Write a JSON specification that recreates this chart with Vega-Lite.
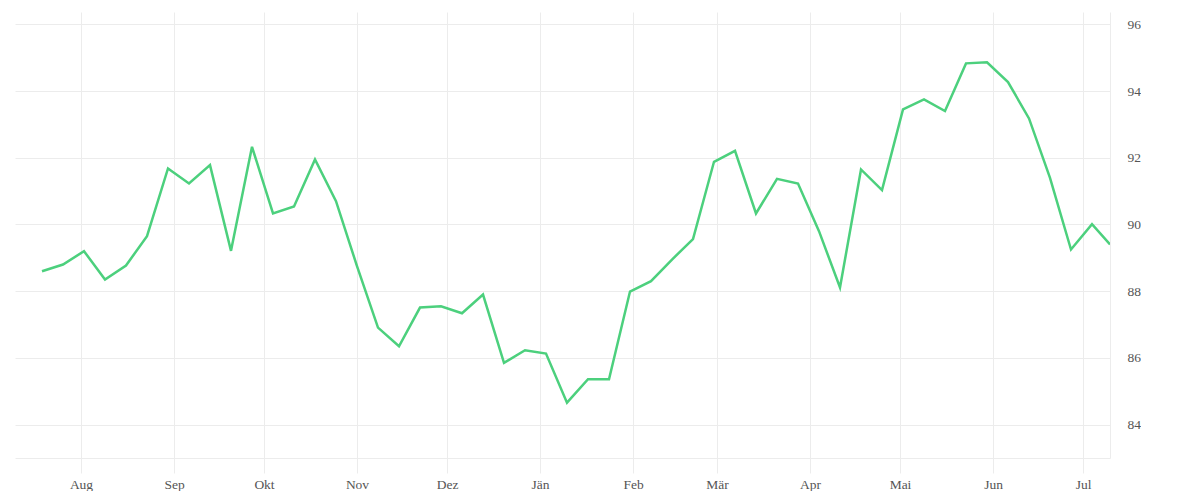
{
  "$schema": "https://vega.github.io/schema/vega-lite/v6.json",
  "width": 1095,
  "height": 446,
  "padding": {"left": 15, "top": 12, "right": 0, "bottom": 0},
  "background": "white",
  "config": {
    "view": {"stroke": null},
    "font": "Liberation Serif"
  },
  "data": {
    "values": [
      {"date": "2022-07-19", "value": 88.60},
      {"date": "2022-07-26", "value": 88.80},
      {"date": "2022-08-02", "value": 89.20},
      {"date": "2022-08-09", "value": 88.35},
      {"date": "2022-08-16", "value": 88.77},
      {"date": "2022-08-23", "value": 89.65},
      {"date": "2022-08-30", "value": 91.68},
      {"date": "2022-09-06", "value": 91.23},
      {"date": "2022-09-13", "value": 91.78},
      {"date": "2022-09-20", "value": 89.21},
      {"date": "2022-09-27", "value": 92.33},
      {"date": "2022-10-04", "value": 90.33},
      {"date": "2022-10-11", "value": 90.54},
      {"date": "2022-10-18", "value": 91.95},
      {"date": "2022-10-25", "value": 90.70},
      {"date": "2022-11-01", "value": 88.75},
      {"date": "2022-11-08", "value": 86.91},
      {"date": "2022-11-15", "value": 86.35},
      {"date": "2022-11-22", "value": 87.51},
      {"date": "2022-11-29", "value": 87.55},
      {"date": "2022-12-06", "value": 87.34},
      {"date": "2022-12-13", "value": 87.90},
      {"date": "2022-12-20", "value": 85.85},
      {"date": "2022-12-27", "value": 86.23},
      {"date": "2023-01-03", "value": 86.13},
      {"date": "2023-01-10", "value": 84.66},
      {"date": "2023-01-17", "value": 85.36},
      {"date": "2023-01-24", "value": 85.36},
      {"date": "2023-01-31", "value": 87.99},
      {"date": "2023-02-07", "value": 88.30},
      {"date": "2023-02-14", "value": 88.95},
      {"date": "2023-02-21", "value": 89.56},
      {"date": "2023-02-28", "value": 91.88},
      {"date": "2023-03-07", "value": 92.21},
      {"date": "2023-03-14", "value": 90.33},
      {"date": "2023-03-21", "value": 91.37},
      {"date": "2023-03-28", "value": 91.23},
      {"date": "2023-04-04", "value": 89.80},
      {"date": "2023-04-11", "value": 88.11},
      {"date": "2023-04-18", "value": 91.65},
      {"date": "2023-04-25", "value": 91.03},
      {"date": "2023-05-02", "value": 93.45},
      {"date": "2023-05-09", "value": 93.75},
      {"date": "2023-05-16", "value": 93.40},
      {"date": "2023-05-23", "value": 94.83},
      {"date": "2023-05-30", "value": 94.86},
      {"date": "2023-06-06", "value": 94.27},
      {"date": "2023-06-13", "value": 93.18},
      {"date": "2023-06-20", "value": 91.40},
      {"date": "2023-06-27", "value": 89.25},
      {"date": "2023-07-04", "value": 90.01},
      {"date": "2023-07-10", "value": 89.40}
    ]
  },
  "mark": {"type": "line", "color": "#4cd07d", "strokeWidth": 2.5, "clip": true},
  "encoding": {
    "x": {
      "field": "date",
      "type": "temporal",
      "scale": {"type": "utc", "domain": ["2022-07-10", "2023-07-10"], "nice": false},
      "axis": {
        "title": null,
        "tickCount": {"interval": "month", "step": 1},
        "labelExpr": "['Jän','Feb','Mär','Apr','Mai','Jun','Jul','Aug','Sep','Okt','Nov','Dez'][utcmonth(datum.value)]",
        "grid": true,
        "gridColor": "#ececec",
        "gridWidth": 1,
        "domainColor": "#ececec",
        "domainWidth": 1,
        "tickColor": "#ececec",
        "tickSize": 15,
        "labelPadding": 4,
        "labelFont": "Liberation Serif",
        "labelFontSize": 13.5,
        "labelColor": "#555555",
        "labelFlush": false
      }
    },
    "y": {
      "field": "value",
      "type": "quantitative",
      "scale": {"domain": [83, 96.37], "nice": false, "zero": false},
      "axis": {
        "title": null,
        "orient": "right",
        "values": [84, 86, 88, 90, 92, 94, 96],
        "grid": true,
        "gridColor": "#ececec",
        "gridWidth": 1,
        "domainColor": "#ececec",
        "domainWidth": 1,
        "ticks": false,
        "labelPadding": 17,
        "labelFont": "Liberation Serif",
        "labelFontSize": 13.5,
        "labelColor": "#555555",
        "labelBaseline": "middle"
      }
    }
  }
}
